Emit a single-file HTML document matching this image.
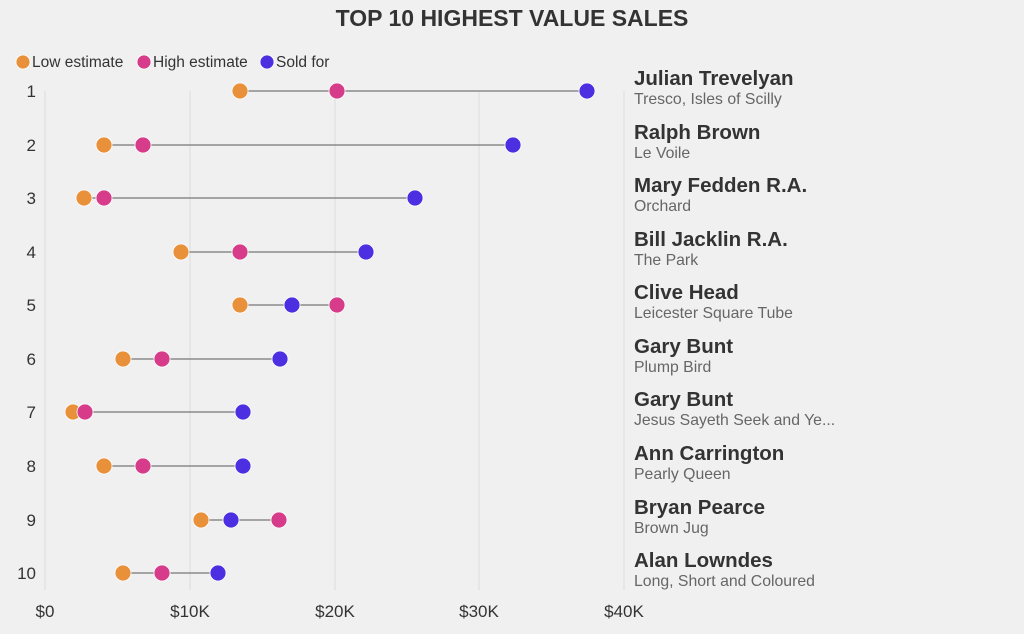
<!DOCTYPE html>
<html><head><style>
body{margin:0;background:#f0f0f0;}
svg{display:block;font-family:"Liberation Sans",sans-serif;}
</style></head><body>
<svg width="1024" height="634" viewBox="0 0 1024 634">
<rect width="1024" height="634" fill="#f0f0f0"/>
<text x="512" y="26" text-anchor="middle" font-size="23" font-weight="bold" fill="#333">TOP 10 HIGHEST VALUE SALES</text>
<g font-size="15.5" fill="#333">
<circle cx="23" cy="62" r="7" fill="#E8903A" stroke="#fff" stroke-width="0.8"/><text x="32" y="67">Low estimate</text>
<circle cx="144" cy="62" r="7" fill="#D63C8A" stroke="#fff" stroke-width="0.8"/><text x="153" y="67">High estimate</text>
<circle cx="267" cy="62" r="7" fill="#4B2FE0" stroke="#fff" stroke-width="0.8"/><text x="276" y="67">Sold for</text>
</g>
<g stroke="#dcdcdc" stroke-width="1">
<line x1="45" y1="91" x2="45" y2="590"/><line x1="190" y1="91" x2="190" y2="590"/><line x1="335" y1="91" x2="335" y2="590"/><line x1="479" y1="91" x2="479" y2="590"/><line x1="624" y1="91" x2="624" y2="590"/>
</g>
<g font-size="17" fill="#333" text-anchor="middle">
<text x="45" y="617">$0</text><text x="190" y="617">$10K</text><text x="335" y="617">$20K</text><text x="479" y="617">$30K</text><text x="624" y="617">$40K</text>
</g>
<g font-size="17" fill="#333" text-anchor="end">
<text x="36" y="97">1</text><text x="36" y="151">2</text><text x="36" y="204">3</text><text x="36" y="258">4</text><text x="36" y="311">5</text><text x="36" y="365">6</text><text x="36" y="418">7</text><text x="36" y="472">8</text><text x="36" y="526">9</text><text x="36" y="579">10</text>
</g>
<g stroke="#777" stroke-width="1.2">
<line x1="240" y1="91" x2="587" y2="91"/><line x1="104" y1="145" x2="513" y2="145"/><line x1="84" y1="198" x2="415" y2="198"/><line x1="181" y1="252" x2="366" y2="252"/><line x1="240" y1="305" x2="337" y2="305"/><line x1="123" y1="359" x2="280" y2="359"/><line x1="73" y1="412" x2="243" y2="412"/><line x1="104" y1="466" x2="243" y2="466"/><line x1="201" y1="520" x2="279" y2="520"/><line x1="123" y1="573" x2="218" y2="573"/>
</g>
<g stroke="#fff" stroke-width="0.8">
<g fill="#E8903A"><circle cx="240" cy="91" r="8"/><circle cx="104" cy="145" r="8"/><circle cx="84" cy="198" r="8"/><circle cx="181" cy="252" r="8"/><circle cx="240" cy="305" r="8"/><circle cx="123" cy="359" r="8"/><circle cx="73" cy="412" r="8"/><circle cx="104" cy="466" r="8"/><circle cx="201" cy="520" r="8"/><circle cx="123" cy="573" r="8"/></g>
<g fill="#D63C8A"><circle cx="337" cy="91" r="8"/><circle cx="143" cy="145" r="8"/><circle cx="104" cy="198" r="8"/><circle cx="240" cy="252" r="8"/><circle cx="337" cy="305" r="8"/><circle cx="162" cy="359" r="8"/><circle cx="85" cy="412" r="8"/><circle cx="143" cy="466" r="8"/><circle cx="279" cy="520" r="8"/><circle cx="162" cy="573" r="8"/></g>
<g fill="#4B2FE0"><circle cx="587" cy="91" r="8"/><circle cx="513" cy="145" r="8"/><circle cx="415" cy="198" r="8"/><circle cx="366" cy="252" r="8"/><circle cx="292" cy="305" r="8"/><circle cx="280" cy="359" r="8"/><circle cx="243" cy="412" r="8"/><circle cx="243" cy="466" r="8"/><circle cx="231" cy="520" r="8"/><circle cx="218" cy="573" r="8"/></g>
</g>
<g fill="#333">
<g font-size="20.5" font-weight="bold">
<text x="634" y="85">Julian Trevelyan</text><text x="634" y="139">Ralph Brown</text><text x="634" y="192">Mary Fedden R.A.</text><text x="634" y="246">Bill Jacklin R.A.</text><text x="634" y="299">Clive Head</text><text x="634" y="353">Gary Bunt</text><text x="634" y="406">Gary Bunt</text><text x="634" y="460">Ann Carrington</text><text x="634" y="514">Bryan Pearce</text><text x="634" y="567">Alan Lowndes</text>
</g>
<g font-size="15.8" fill="#666">
<text x="634" y="104">Tresco, Isles of Scilly</text><text x="634" y="158">Le Voile</text><text x="634" y="211">Orchard</text><text x="634" y="265">The Park</text><text x="634" y="318">Leicester Square Tube</text><text x="634" y="372">Plump Bird</text><text x="634" y="425">Jesus Sayeth Seek and Ye...</text><text x="634" y="479">Pearly Queen</text><text x="634" y="533">Brown Jug</text><text x="634" y="586">Long, Short and Coloured</text>
</g>
</g>
</svg>
</body></html>
